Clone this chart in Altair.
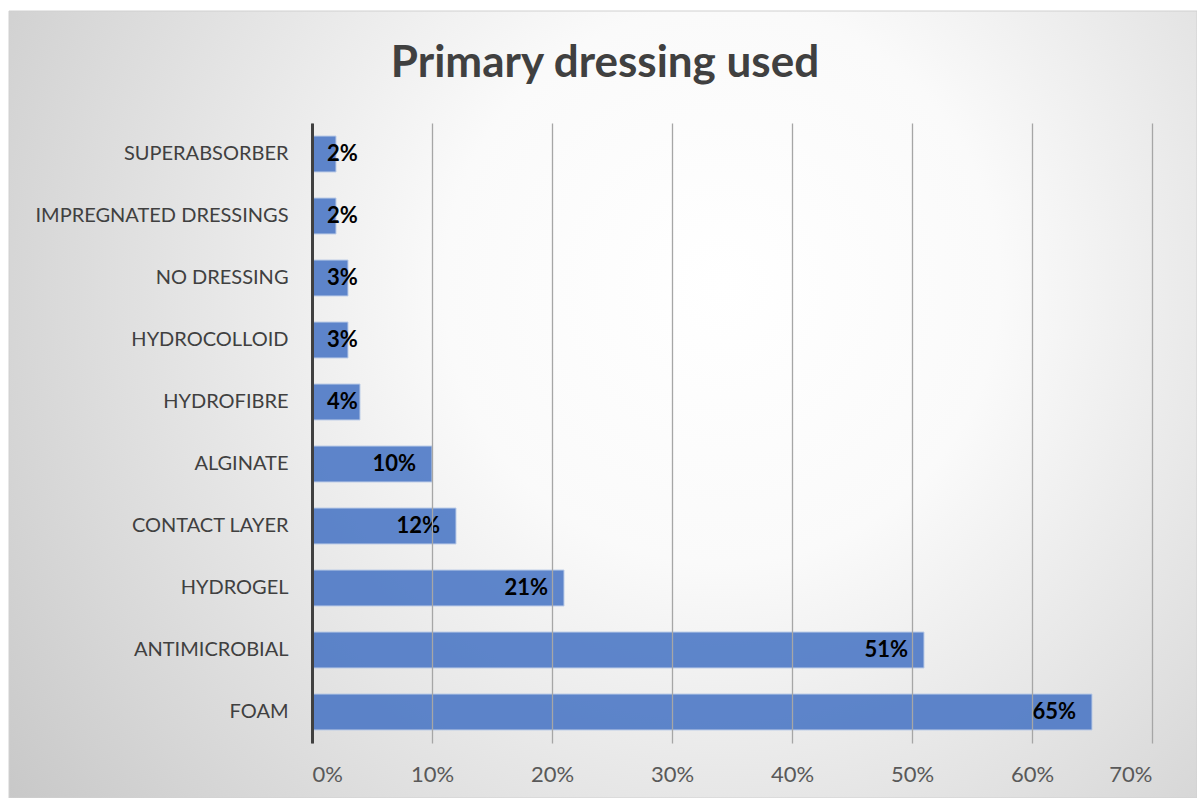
import altair as alt
import pandas as pd

title_text = "Primary dressing used"
categories = ["SUPERABSORBER", "IMPREGNATED DRESSINGS", "NO DRESSING", "HYDROCOLLOID",
              "HYDROFIBRE", "ALGINATE", "CONTACT LAYER", "HYDROGEL", "ANTIMICROBIAL", "FOAM"]
values = [0.02, 0.02, 0.03, 0.03, 0.04, 0.10, 0.12, 0.21, 0.51, 0.65]
tick_values = [0, 0.1, 0.2, 0.3, 0.4, 0.5, 0.6, 0.7]

df = pd.DataFrame({"cat": categories, "v": values})
df["label"] = [f"{round(v*100)}%" for v in values]

W, H = 840, 620
FONT = "Lato"

ysc = alt.Scale(domain=categories, paddingInner=0.42, paddingOuter=0.21)
xsc = alt.Scale(domain=[0, 0.7], nice=False)

one = pd.DataFrame({"t": [title_text]})

bg = alt.Chart(one).mark_rect(
    fill={
        "gradient": "radial",
        "x1": 0.6, "y1": 0.4, "r1": 0,
        "x2": 0.6, "y2": 0.4, "r2": 0.78,
        "stops": [
            {"offset": 0, "color": "#ffffff"},
            {"offset": 0.3, "color": "#fafafa"},
            {"offset": 1, "color": "#c4c4c4"},
        ],
    },
    stroke="#d0d0d0", strokeWidth=1,
).encode(
    x=alt.value(-303), x2=alt.value(W + 45),
    y=alt.value(-112), y2=alt.value(H + 55),
)

title = alt.Chart(one).mark_text(
    align="center", baseline="alphabetic", font=FONT, fontSize=44,
    fontWeight="bold", color="#404040"
).encode(x=alt.value(293), y=alt.value(-46), text="t:N")

base = alt.Chart(df)

bars = base.mark_bar(
    color="#4472C4", opacity=0.85, stroke="#b4c7e7", strokeWidth=1
).encode(
    y=alt.Y("cat:N", scale=ysc, sort=categories,
            axis=alt.Axis(title=None, ticks=False, labelPadding=24, labelLimit=400,
                          labelFont=FONT, labelFontSize=20, labelColor="#404040",
                          domainColor="#404040", domainWidth=3, zindex=1)),
    x=alt.X("v:Q", scale=xsc,
            axis=alt.Axis(title=None, values=tick_values, format=".0%",
                          domain=False, ticks=False, labelPadding=21,
                          labelFont=FONT, labelFontSize=22, labelColor="#595959",
                          grid=True, gridColor="#a6a6a6", gridWidth=1.3, zindex=1)),
)

labels_big = base.transform_filter("datum.v >= 0.1").mark_text(
    align="right", baseline="middle", dx=-16, font=FONT, fontSize=22,
    fontWeight="bold", color="#000000"
).encode(
    y=alt.Y("cat:N", scale=ysc, sort=categories),
    x=alt.X("v:Q", scale=xsc),
    text="label:N",
)

labels_small = base.transform_filter("datum.v < 0.1").mark_text(
    align="left", baseline="middle", font=FONT, fontSize=22,
    fontWeight="bold", color="#000000"
).encode(
    y=alt.Y("cat:N", scale=ysc, sort=categories),
    x=alt.value(15),
    text="label:N",
)

chart = alt.layer(bg, title, bars, labels_big, labels_small).properties(
    width=W, height=H,
    autosize=alt.AutoSizeParams(type="none"),
    padding={"left": 312, "top": 123, "right": 45, "bottom": 55},
).configure_view(stroke=None).configure(background="#ffffff")

chart.save("out.html", embed_options={"renderer": "svg", "actions": False})
